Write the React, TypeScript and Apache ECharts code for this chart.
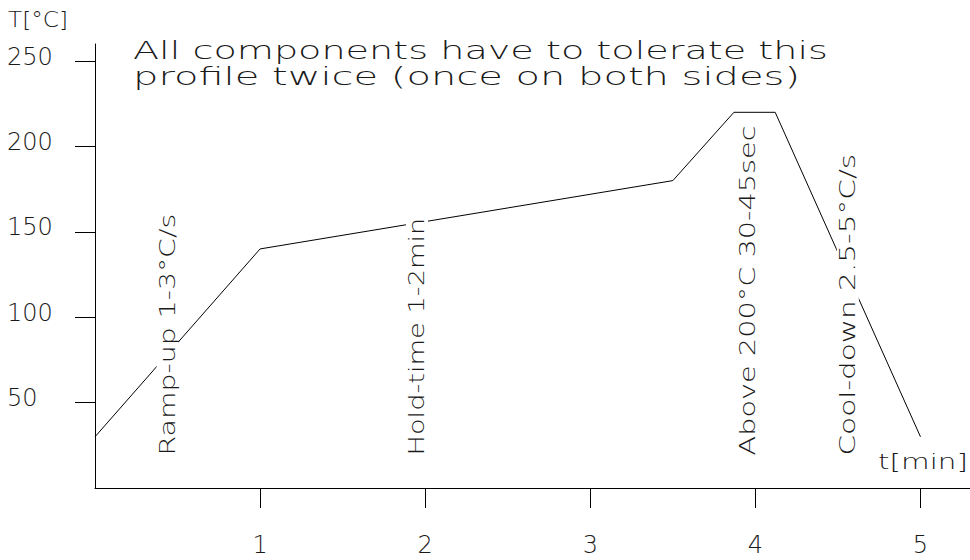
import React, { useEffect, useRef } from 'react';
import * as echarts from 'echarts';

// Reflow soldering temperature profile (time in minutes, temperature in °C)
const profileTime = [0, 1, 3.5, 3.87, 4.12, 5];
const profileTemp = [30, 140, 180, 220, 220, 30];

const xTickValues = [1, 2, 3, 4, 5];
const yTickValues = [50, 100, 150, 200, 250];

const yAxisTitle = 'T[°C]';
const xAxisTitle = 't[min]';
const noteLines = ['All components have to tolerate this', 'profile twice (once on both sides)'];
const phaseLabels = ['Ramp-up 1-3°C/s', 'Hold-time 1-2min', 'Above 200°C 30-45sec', 'Cool-down 2.5-5°C/s'];
// time (min) at which each phase caption stands
const phaseAt = [0.44, 1.95, 3.95, 4.56];

const FONT = "'DejaVu Sans', 'Liberation Sans', sans-serif";
const INK = '#1a1a1a';

const measureCtx = typeof document !== 'undefined' ? document.createElement('canvas').getContext('2d') : null;
function stretchFor(text: string, size: number, targetWidth: number): number {
  if (!measureCtx) return 1;
  measureCtx.font = `${size}px ${FONT}`;
  const w = measureCtx.measureText(text).width;
  return w > 0 ? targetWidth / w : 1;
}

function flatText(text: string, x: number, y: number, size: number, width: number) {
  return {
    type: 'text',
    x,
    y,
    scaleX: stretchFor(text, size, width),
    z: 10,
    style: {
      text,
      fill: INK,
      fontSize: size,
      fontFamily: FONT,
      fontWeight: 200,
      align: 'left',
      verticalAlign: 'top',
    },
  };
}

export default function App() {
  const ref = useRef<HTMLDivElement>(null);

  useEffect(() => {
    if (!ref.current) return;
    const chart = echarts.init(ref.current, undefined, { renderer: 'svg' });

    const axisLabelStyle = {
      color: INK,
      fontSize: 24,
      fontFamily: FONT,
      fontWeight: 200,
    };

    chart.setOption({
      animation: false,
      backgroundColor: '#fff',
      grid: { left: 95, right: 0, top: 44, bottom: 72, outerBoundsMode: 'none' },
      xAxis: {
        type: 'value',
        min: 0,
        max: 5.3,
        interval: 1,
        splitLine: { show: false },
        axisLine: { lineStyle: { color: '#000', width: 1 } },
        axisTick: { customValues: xTickValues, length: 20, lineStyle: { color: '#000', width: 1 } },
        axisLabel: { ...axisLabelStyle, customValues: xTickValues, margin: 45 },
      },
      yAxis: {
        type: 'value',
        min: 0,
        max: 260,
        interval: 50,
        splitLine: { show: false },
        axisLine: { lineStyle: { color: '#000', width: 1 } },
        axisTick: { customValues: yTickValues, length: 20, lineStyle: { color: '#000', width: 1 } },
        axisLabel: {
          ...axisLabelStyle,
          customValues: yTickValues,
          align: 'left',
          verticalAlign: 'bottom',
          lineHeight: 9,
          margin: 88,
        },
      },
      series: [
        {
          type: 'line',
          data: profileTime.map((t, i) => [t, profileTemp[i]]),
          symbol: 'none',
          silent: true,
          z: 2,
          lineStyle: { color: '#000', width: 1 },
        },
      ],
    });

    // Phase captions stand upright along the curve, masking it where they cross it
    const phaseLengths = [242, 238, 330, 302];
    const baseY = chart.convertToPixel({ yAxisIndex: 0 }, 19) as number;
    const phaseGraphics = phaseLabels.map((text, i) => {
      const px = chart.convertToPixel({ xAxisIndex: 0 }, phaseAt[i]) as number;
      return {
        type: 'text',
        x: px,
        y: baseY,
        rotation: Math.PI / 2,
        scaleX: stretchFor(text, 22, phaseLengths[i]),
        z: 10,
        style: {
          text,
          fill: INK,
          fontSize: 22,
          fontFamily: FONT,
          fontWeight: 200,
          align: 'left',
          verticalAlign: 'middle',
          backgroundColor: '#fff',
        },
      };
    });

    chart.setOption({
      graphic: [
        flatText(yAxisTitle, 8, 8, 22, 60),
        flatText(noteLines[0], 133, 38, 25, 695),
        flatText(noteLines[1], 133, 64, 25, 667),
        flatText(xAxisTitle, 878, 450, 22, 90),
        ...phaseGraphics,
      ],
    });

    return () => chart.dispose();
  }, []);

  return <div ref={ref} style={{ width: 970, height: 560, position: 'absolute', left: 0, top: 0 }} />;
}
